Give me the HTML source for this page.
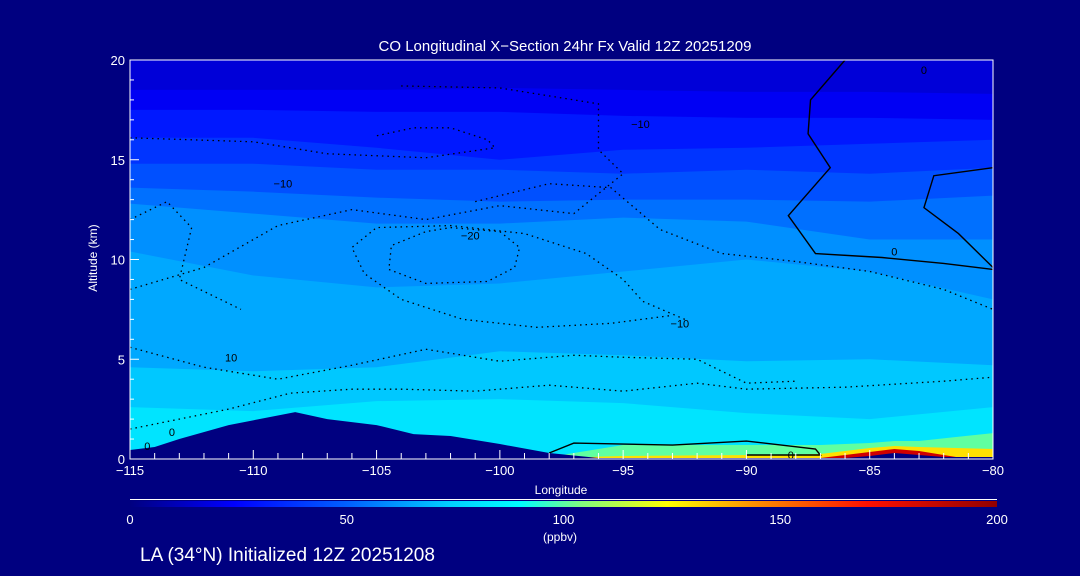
<!DOCTYPE html>
<html><head><meta charset="utf-8"><style>
html,body{margin:0;padding:0;background:#000080;width:1080px;height:576px;overflow:hidden}
svg{display:block;font-family:"Liberation Sans",sans-serif}
</style></head><body>
<svg id="chart" width="1080" height="576">
<defs>
<linearGradient id="cbar" x1="0" x2="1" y1="0" y2="0">
<stop offset="0" stop-color="#000080"/><stop offset="0.12" stop-color="#0000ff"/>
<stop offset="0.25" stop-color="#0060ff"/><stop offset="0.37" stop-color="#00d0ff"/>
<stop offset="0.45" stop-color="#00ffff"/><stop offset="0.52" stop-color="#80ff80"/>
<stop offset="0.62" stop-color="#ffff00"/><stop offset="0.72" stop-color="#ff9000"/>
<stop offset="0.85" stop-color="#ff1000"/><stop offset="1" stop-color="#900000"/>
</linearGradient>
</defs>
<g id="bands"></g>
<g id="terrain"></g>
<g id="contours"></g>
<g id="axes"></g>
<text x="565" y="51" fill="#fff" font-size="15" text-anchor="middle">CO Longitudinal X−Section 24hr  Fx Valid 12Z 20251209</text>
<text x="97" y="258" fill="#fff" font-size="12" text-anchor="middle" transform="rotate(-90 97 258)">Altitude (km)</text>
<text x="561" y="494" fill="#fff" font-size="12" text-anchor="middle">Longitude</text>
<line x1="130" y1="499.5" x2="997" y2="499.5" stroke="#fff"/>
<rect x="130" y="501" width="867" height="6" fill="url(#cbar)"/>
<g id="cbticks"></g>
<text x="560" y="541" fill="#fff" font-size="12" text-anchor="middle">(ppbv)</text>
<text x="140" y="561" fill="#fff" font-size="19">LA (34°N) Initialized 12Z 20251208</text>
</svg>
<script>
const lons=[-115,-110,-105,-100,-95,-90,-85,-80];
const bandColors=["#0000d8","#0000f4","#0018ff","#0034ff","#0050ff","#0070ff","#0090ff","#00a8ff","#00c8ff","#00e4ff","#00f4ff"];
const b1=[18.5,18.5,18.5,18.6,18.5,18.4,18.4,18.3];
const b2=[17.5,17.5,17.4,17.4,17.2,17.1,17.1,17.0];
const b3=[16.1,16.1,15.6,15.0,15.5,15.6,15.8,16.0];
const b4=[14.8,14.8,14.5,14.5,14.3,14.5,14.3,14.6];
const b5=[13.6,13.4,13.1,12.9,13.0,13.0,12.9,13.2];
const b6=[12.8,12.3,11.8,11.8,12.1,11.9,11.0,11.0];
const b7=[10.4,9.2,8.6,8.8,9.4,10.0,9.4,8.0];
const b8=[4.6,4.4,4.6,5.4,5.2,4.9,5.0,4.7];
const b9=[2.6,2.4,2.9,3.0,2.8,2.3,2.0,2.6];
const bounds=[b1,b2,b3,b4,b5,b6,b7,b8,b9];
const surfLons=[-98,-96,-95,-92,-89,-87,-85,-84,-83,-81.5,-80];
const greenTop=[0.1,0.5,0.7,0.7,0.7,0.7,0.8,0.9,0.9,1.1,1.3];
const yellowTop=[0,0.12,0.15,0.18,0.2,0.25,0.55,0.65,0.6,0.55,0.5];
const redTop=[0,0,0,0,0,0.05,0.35,0.5,0.4,0.1,0];
const terrLon=[-115,-114,-113,-111,-108.3,-107,-105,-103.5,-102,-100,-98,-96,-86,-85,-84,-83,-82,-80];
const terrAlt=[0.45,0.6,1.0,1.7,2.35,2.0,1.7,1.25,1.15,0.75,0.3,0.05,0.05,0.15,0.3,0.2,0.1,0.1];
const xTicks=[-115,-110,-105,-100,-95,-90,-85,-80];
const yTicks=[0,5,10,15,20];
const cbTicks=[0,50,100,150,200];
const solid0a=[[-86,20],[-87.4,18],[-87.5,16.3],[-86.6,14.6],[-88.3,12.2],[-87.2,10.3],[-84.5,10.1],[-82,9.8],[-80,9.5]];
const solid0b=[[-80,14.6],[-82.4,14.2],[-82.8,12.6],[-81.4,11.3],[-80,9.6]];
const solidLow=[[-98,0.3],[-97,0.8],[-93,0.7],[-90,0.9],[-87.2,0.5],[-87,0.2],[-90,0.2]];
const dotA=[[-115,8.5],[-112,9.6],[-109,11.7],[-106,12.5],[-103,12.0],[-100,12.7],[-97,12.3],[-95,14.3],[-96,15.5],[-96,17.8],[-100,18.6],[-104,18.7]];
const dotB=[[-102,11.6],[-100,11.4],[-99.2,10.6],[-99.4,9.6],[-100.5,8.9],[-103,8.8],[-104.5,9.5],[-104.4,10.7],[-103,11.4],[-102,11.6]];
const dotH=[[-92.5,7.0],[-94.2,7.9],[-95,9.0],[-96.5,10.3],[-99,11.3],[-102,11.7],[-105,11.6],[-106,10.6],[-105.5,9.3],[-104,8.0],[-101.5,7.0],[-98.5,6.6],[-95.5,6.8],[-93,7.2]];
const dotC=[[-115,16.1],[-110,15.9],[-107,15.3],[-103,15.1],[-100.2,15.6],[-100.5,16.0],[-102,16.6],[-103.5,16.6],[-105,16.2]];
const dotD=[[-115,1.5],[-111,2.5],[-108.5,3.3],[-106,3.5],[-104,3.5],[-101,3.4],[-98,3.7],[-95,3.4],[-92,3.8],[-90,3.5],[-86,3.6],[-82,3.9],[-80,4.1]];
const dotE=[[-115,5.6],[-112,4.6],[-109,4.0],[-106,4.7],[-103,5.5],[-100,4.9],[-97,5.2],[-95,5.1],[-92,5.0],[-91,4.4],[-90,3.8],[-88,3.9]];
const dotF=[[-115,12],[-113.5,12.9],[-112.5,11.6],[-113,9],[-110.5,7.5]];
const dotG=[[-101,12.9],[-98,13.8],[-95.5,13.6],[-93.5,11.5],[-91,10.3],[-88,9.9],[-85,9.4],[-82,8.5],[-80,7.5]];
const X=l=>130+(l+115)/35*863;
const Y=a=>459-a/20*399;
const NS="http://www.w3.org/2000/svg";
function mk(t,p,a){const e=document.createElementNS(NS,t);for(const k in a)e.setAttribute(k,a[k]);p.appendChild(e);return e;}
const bands=document.getElementById('bands');
let r=mk('rect',bands,{x:130,y:60,width:863,height:399,fill:bandColors[0]});


bounds.forEach((b,i)=>{
 let d='M'+X(lons[0])+','+Y(0);
 lons.forEach((l,j)=>{d+=' L'+X(l)+','+Y(b[j]);});
 d+=' L'+X(lons[lons.length-1])+','+Y(0)+' Z';
 const p=mk('path',bands,{d:d,fill:bandColors[i+1]});
 
 
});
[[greenTop,'#60ffa0'],[yellowTop,'#ffe000'],[redTop,'#d00000']].forEach(([arr,c],k)=>{
 let d='M'+X(surfLons[0])+','+Y(0);
 surfLons.forEach((l,j)=>{d+=' L'+X(l)+','+Y(arr[j]);});
 d+=' L'+X(surfLons[surfLons.length-1])+','+Y(0)+' Z';
 const p=mk('path',bands,{d:d,fill:c});
 
 
});
let td='M'+X(terrLon[0])+','+Y(0);
terrLon.forEach((l,j)=>{td+=' L'+X(l)+','+Y(terrAlt[j]);});
td+=' L'+X(-80)+','+Y(0)+' Z';
const tp=mk('path',document.getElementById('terrain'),{d:td,fill:'#000080'});


const cg=document.getElementById('contours');
function line(pts,dash,name){
 const p=mk('polyline',cg,{points:pts.map(q=>X(q[0])+','+Y(q[1])).join(' '),fill:'none',stroke:'#000','stroke-width':dash?1.3:1.4,'stroke-dasharray':dash?'1.5 4':'none'});
 
 
}
line(solid0a,false,'contour-0-upper');line(solid0b,false,'contour-0-right');line(solidLow,false,'contour-low');
[dotA,dotB,dotH,dotC,dotD,dotE,dotF,dotG].forEach((c,i)=>line(c,true,'contour-neg-'+i));
[[-94.3,16.8,'−10'],[-108.8,13.8,'−10'],[-101.2,11.2,'−20'],[-92.7,6.8,'−10'],[-110.9,5.1,'10'],[-84,10.4,'0'],[-88.2,0.2,'0'],[-82.8,19.5,'0'],[-114.3,0.65,'0'],[-113.3,1.35,'0']].forEach(q=>{
 const t=mk('text',cg,{x:X(q[0]),y:Y(q[1])+4,'font-size':11,fill:'#000','text-anchor':'middle'});t.textContent=q[2];
 
 
});
const ax=document.getElementById('axes');
const fr=mk('rect',ax,{x:130,y:60,width:863,height:399,fill:'none',stroke:'#fff','stroke-width':1});


for(let l=-115;l<=-80;l++){const big=l%5===0;mk('line',ax,{x1:X(l),x2:X(l),y1:459,y2:459-(big?9:6),stroke:'#fff'});}
for(let a=0;a<=20;a++){const big=a%5===0;mk('line',ax,{x1:130,x2:130+(big?9:4),y1:Y(a),y2:Y(a),stroke:'#fff'});}
xTicks.forEach(l=>{const t=mk('text',ax,{x:X(l),y:475,fill:'#fff','font-size':13,'text-anchor':'middle'});t.textContent=(l<0?'−':'')+Math.abs(l);
 
 });
yTicks.forEach(a=>{const t=mk('text',ax,{x:125,y:Y(a)+5,fill:'#fff','font-size':13,'text-anchor':'end'});t.textContent=a;
 
 });
const cb=document.getElementById('cbticks');
cbTicks.forEach(v=>{const t=mk('text',cb,{x:130+v/200*867,y:524,fill:'#fff','font-size':13,'text-anchor':'middle'});t.textContent=v;
 
 });
</script>
</body></html>
